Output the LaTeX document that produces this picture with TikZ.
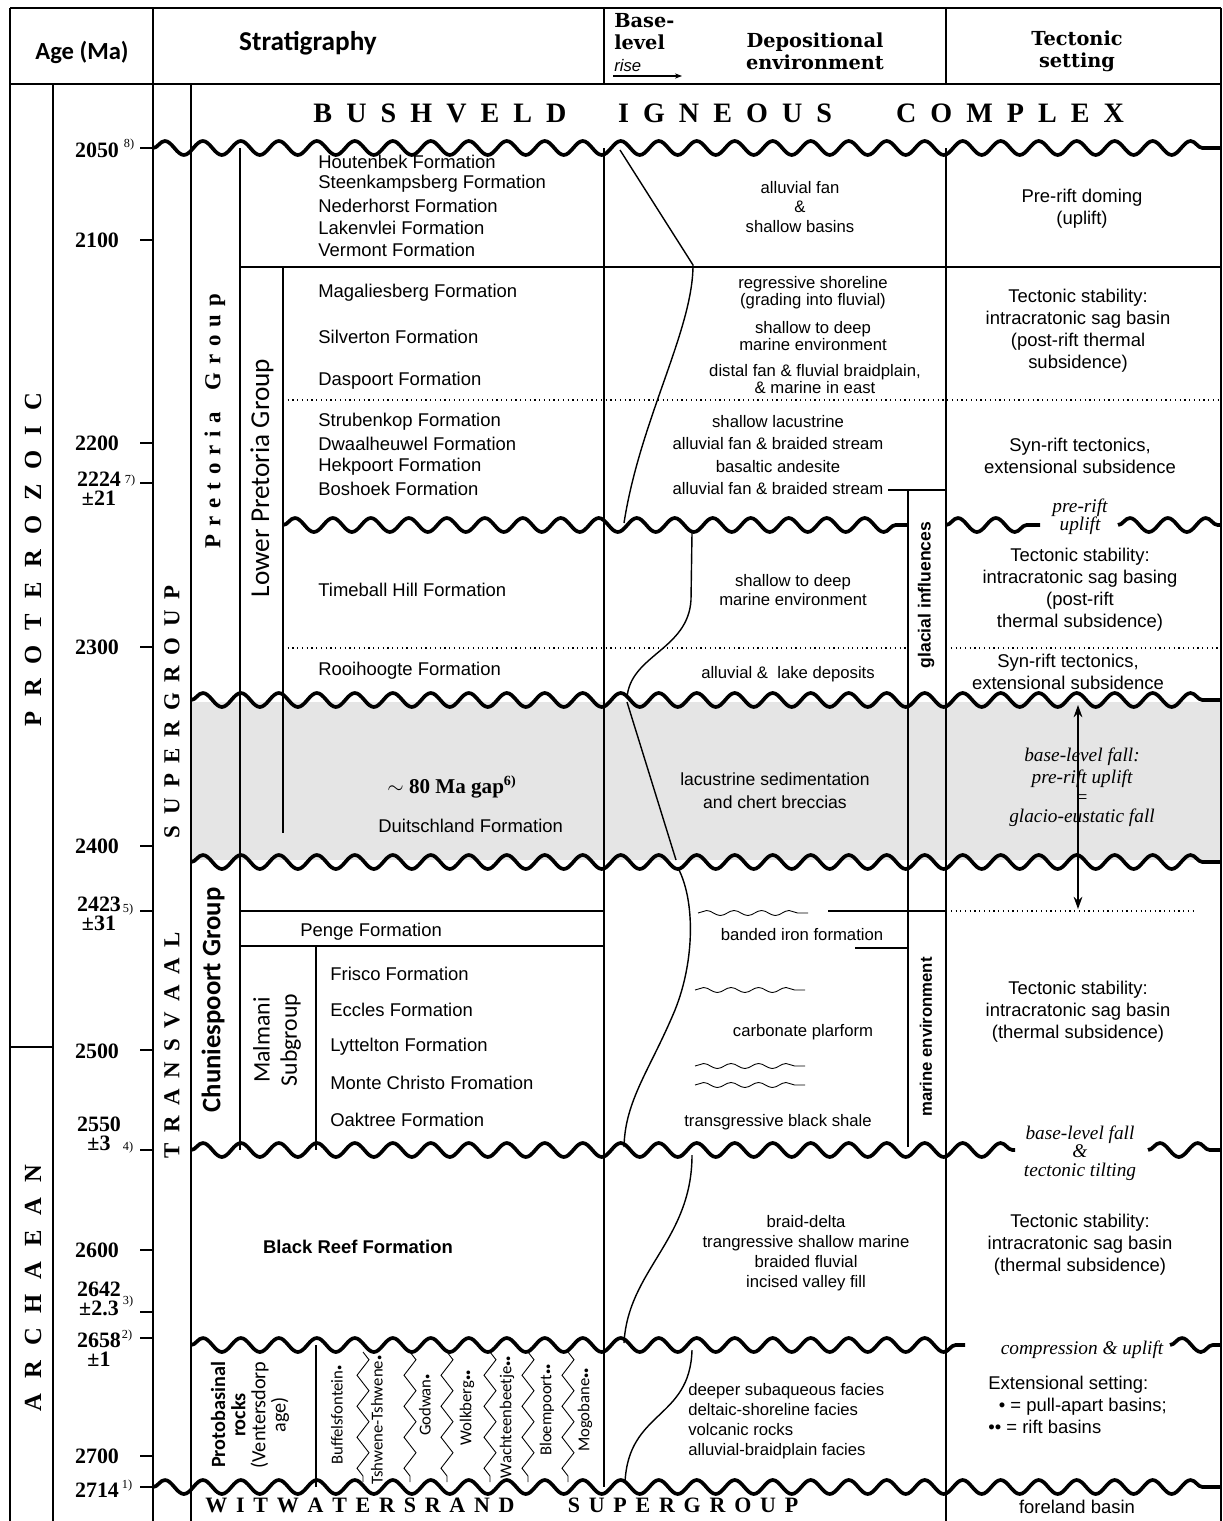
\documentclass[tikz,border=0pt]{standalone}
\usepackage{fontspec}
\setmainfont{Liberation Serif}
\setsansfont{Liberation Sans}
\newfontfamily\gillfont{Carlito}
\newfontfamily\headfont{DejaVu Serif}
\usetikzlibrary{positioning,arrows.meta,decorations.pathmorphing}

% letter-spaced capitals
\makeatletter
\newcommand\spreadtext[2]{{\def\st@gap{\hspace{#1}}\@tfor\st@tok:=#2\do{\st@tok\st@gap}\unskip}}
\makeatother
\newcommand\bul{{\fontsize{6}{6}\selectfont\textbullet}}

\tikzset{
  rule/.style={line width=0.7pt},
  unconf/.style={line width=2.1pt,line join=round,decorate,
    decoration={snake,segment length=0.76cm,amplitude=0.14cm}},
  squig/.style={line width=0.5pt,decorate,
    decoration={snake,segment length=0.55cm,amplitude=0.05cm}},
  zig/.style={line width=0.5pt,decorate,
    decoration={zigzag,segment length=0.62cm,amplitude=0.12cm}},
  fm/.style={anchor=west,font=\sffamily\fontsize{10.5}{12}\selectfont},
  dep/.style={align=center,font=\sffamily\fontsize{9.5}{11.3}\selectfont},
  tec/.style={align=center,font=\sffamily\fontsize{10.5}{12.5}\selectfont},
  tecit/.style={align=center,font=\itshape\fontsize{11}{10.5}\selectfont},
  age/.style={align=center,font=\bfseries\fontsize{12.5}{11}\selectfont},
  ref/.style={font=\fontsize{7}{7}\selectfont},
  head/.style={align=center,font=\headfont\bfseries\fontsize{11}{12.5}\selectfont},
  eon/.style={rotate=90,font=\bfseries\fontsize{14}{14}\selectfont},
  colab/.style={rotate=90,font=\gillfont\fontsize{9.5}{9.5}\selectfont},
}

\begin{document}
\begin{tikzpicture}[x=0.02cm,y=-0.02cm,every node/.style={inner sep=0pt}]
\useasboundingbox (0,0) rectangle (1223,1521);

% gap shading
\fill[gray!20] (191,702) rectangle (1221,860);

% frame and columns
\draw[rule] (10,8) -- (1221,8);
\draw[rule] (10,84) -- (1221,84);
\draw[rule] (10,8) -- (10,1521);
\draw[rule] (1221,8) -- (1221,1521);
\draw[rule] (53,84) -- (53,1521);
\draw[rule] (10,1047) -- (53,1047);
\draw[rule] (153,8) -- (153,1521);
\draw[rule] (191,84) -- (191,1521);
\draw[rule] (240,148) -- (240,1150);
\draw[rule] (283,267) -- (283,833);
\draw[rule] (316,946) -- (316,1150);
\draw[rule] (316,1345) -- (316,1487);
\draw[rule] (604,8) -- (604,84);
\draw[rule] (604,148) -- (604,1487);
\draw[rule] (946,8) -- (946,84);
\draw[rule] (946,148) -- (946,1521);

% horizontal divisions
\draw[rule] (240,267) -- (1221,267);
\draw[rule,dotted] (283,400) -- (1221,400);
\draw[rule,dotted] (283,648) -- (908,648);
\draw[rule,dotted] (946,648) -- (1221,648);
\draw[rule] (240,911) -- (604,911);
\draw[rule] (240,946) -- (604,946);
\draw[rule] (888,490) -- (946,490);
\draw[rule] (908,490) -- (908,1147);
\draw[rule] (828,911) -- (946,911);
\draw[rule,dotted] (946,911) -- (1195,911);
\draw[rule] (855,948) -- (908,948);

% age ticks
\foreach \y in {148,240,443,483,647,846,911,1050,1150,1250,1312,1338,1456,1487}
  \draw[rule] (140,\y) -- (153,\y);

% unconformities
\draw[unconf] (153,148) -- (1221,148);
\draw[unconf] (283,525) -- (908,525);
\draw[unconf] (946,525) -- (1040,525);
\draw[unconf] (1118,525) -- (1221,525);
\draw[unconf] (191,700) -- (1221,700);
\draw[unconf] (191,862) -- (1221,862);
\draw[unconf] (191,1150) -- (1015,1150);
\draw[unconf] (1148,1150) -- (1221,1150);
\draw[unconf] (191,1345) -- (965,1345);
\draw[unconf] (1170,1345) -- (1221,1345);
\draw[unconf] (153,1487) -- (1221,1487);

% base-level curve
\draw[line width=0.8pt] (620,150) -- (693,265) .. controls (693,330) and (640,420) .. (624,523);
\draw[line width=0.8pt] (692,533) -- (691,600) .. controls (688,650) and (630,655) .. (627,698);
\draw[line width=0.8pt] (627,702) -- (676,860);
\draw[line width=0.8pt] (678,868) .. controls (695,900) and (695,960) .. (675,1010)
  .. controls (650,1070) and (625,1100) .. (624,1147);
\draw[line width=0.8pt] (692,1155) .. controls (692,1240) and (628,1270) .. (624,1343);
\draw[line width=0.8pt] (692,1350) .. controls (690,1420) and (628,1410) .. (625,1483);

% facies squiggles
\draw[squig] (698,913) -- (808,913);
\draw[squig] (695,990) -- (805,990);
\draw[squig] (695,1066) -- (805,1066);
\draw[squig] (695,1085) -- (805,1085);

% protobasinal dividers
\foreach \xx in {363,410,447,490,528,568}
  \draw[zig] (\xx,1352) -- (\xx,1482);

% gap arrow
\coordinate (arrtop) at (1078,705);
\coordinate (arrbot) at (1078,909);
\draw[{Stealth[length=7pt,width=5pt]}-{Stealth[length=7pt,width=5pt]},line width=0.8pt] (arrtop) -- (arrbot);

% header
\node[font=\gillfont\bfseries\fontsize{14}{14}\selectfont] (hage) at (82,52) {Age (Ma)};
\node[font=\gillfont\bfseries\fontsize{15.5}{15.5}\selectfont] (hstrat) at (308,43) {Stratigraphy};
\node[head,align=left,anchor=north west] (hbase) at (614,13) {Base-\\level};
\node[anchor=west,font=\sffamily\itshape\fontsize{9.5}{9.5}\selectfont] (hrise) at (614,66) {rise};
\coordinate (risea) at (613,76);
\coordinate (riseb) at (682,76);
\draw[-{Stealth[length=4pt,width=3pt]},line width=0.6pt] (risea) -- (riseb);
\node[head] (hdep) at (815,51) {Depositional\\environment};
\node[head] (htec) at (1077,51) {Tectonic\\setting};

% eons and groups
\node[eon] (prot) at (33,560) {\spreadtext{8.5pt}{PROTEROZOIC}};
\node[eon] (arch) at (33,1288) {\spreadtext{8.5pt}{ARCHAEAN}};
\node[eon,font=\bfseries\fontsize{13}{13}\selectfont] (sgsuper) at (172,712) {\spreadtext{6pt}{SUPERGROUP}};
\node[eon,font=\bfseries\fontsize{13}{13}\selectfont] (sgtrans) at (172,1045) {\spreadtext{6pt}{TRANSVAAL}};
\node[rotate=90,font=\bfseries\fontsize{13}{13}\selectfont] (pretgp) at (215,421) {\spreadtext{4.5pt}{Pretoria~Group}};
\node[rotate=90,font=\gillfont\fontsize{15.5}{15.5}\selectfont] (lowpret) at (262,478) {Lower Pretoria Group};
\node[rotate=90,font=\gillfont\bfseries\fontsize{15.2}{15.2}\selectfont] (chun) at (213,1000) {Chuniespoort Group};
\node[rotate=90,align=center,font=\gillfont\fontsize{13.5}{15.5}\selectfont] (malm) at (277,1040) {Malmani\\Subgroup};
\node[rotate=90,align=center,font=\gillfont\fontsize{11.5}{11.5}\selectfont] (proto) at (250,1415)
  {\textbf{Protobasinal}\\\textbf{rocks}\\(Ventersdorp\\age)};

% ages
\node[age] (a2050) at (97,150) {2050};
\node[age] (a2100) at (97,240) {2100};
\node[age] (a2200) at (97,443) {2200};
\node[age] (a2224) at (99,489) {2224\\±21};
\node[age] (a2300) at (97,647) {2300};
\node[age] (a2400) at (97,846) {2400};
\node[age] (a2423) at (99,914) {2423\\±31};
\node[age] (a2500) at (97,1051) {2500};
\node[age] (a2550) at (99,1134) {2550\\±3};
\node[age] (a2600) at (97,1250) {2600};
\node[age] (a2642) at (99,1299) {2642\\±2.3};
\node[age] (a2658) at (99,1350) {2658\\±1};
\node[age] (a2700) at (97,1456) {2700};
\node[age] (a2714) at (97,1490) {2714};
\node[ref] (r8) at (129,145) {8)};
\node[ref] (r7) at (130,481) {7)};
\node[ref] (r5) at (128,910) {5)};
\node[ref] (r4) at (128,1148) {4)};
\node[ref] (r3) at (128,1302) {3)};
\node[ref] (r2) at (127,1336) {2)};
\node[ref] (r1) at (127,1486) {1)};

% big names
\node[font=\bfseries\fontsize{16}{16}\selectfont] (bush) at (440,113) {\spreadtext{8pt}{BUSHVELD}};
\node[font=\bfseries\fontsize{16}{16}\selectfont] (igne) at (725,113) {\spreadtext{8pt}{IGNEOUS}};
\node[font=\bfseries\fontsize{16}{16}\selectfont] (comp) at (1010,113) {\spreadtext{8pt}{COMPLEX}};
\node[font=\bfseries\fontsize{12.5}{12.5}\selectfont] (witw) at (360,1505) {\spreadtext{5pt}{WITWATERSRAND}};
\node[font=\bfseries\fontsize{12.5}{12.5}\selectfont] (wsup) at (683,1505) {\spreadtext{5pt}{SUPERGROUP}};

% formations
\foreach \nm/\y/\t in {hout/162/Houtenbek, steen/184/Steenkampsberg, neder/206/Nederhorst,
    laken/228/Lakenvlei, verm/250/Vermont, magal/293/Magaliesberg, silv/337/Silverton,
    dasp/381/Daspoort, strub/422/Strubenkop, dwaal/444/Dwaalheuwel, hekp/467/Hekpoort,
    bosh/489/Boshoek, timeb/590/Timeball Hill, rooih/671/Rooihoogte}
  \node[fm] (\nm) at (318,\y) {\t\ Formation};
\node[fm] (duits) at (378,826) {Duitschland Formation};
\node[fm] (penge) at (300,932) {Penge Formation};
\foreach \nm/\y/\t in {frisco/974/Frisco Formation, eccles/1010/Eccles Formation,
    lyttel/1047/Lyttelton Formation, montec/1083/Monte Christo Fromation, oaktr/1120/Oaktree Formation}
  \node[fm] (\nm) at (330,\y) {\t};
\node[font=\sffamily\bfseries\fontsize{10.5}{12}\selectfont] (blackreef) at (358,1247) {Black Reef Formation};
\node[font=\bfseries\fontsize{12}{12}\selectfont] (gaptxt) at (452,787) {$\sim$ 80 Ma gap\textsuperscript{6)}};

% protobasinal units
\foreach \nm/\xx/\yy/\t in {buff/337/1415/Buffelsfontein\bul, tshw/377/1420/Tshwene-Tshwene\bul,
    godw/425/1405/Godwan\bul, wolk/467/1408/Wolkberg\bul\bul, wach/507/1417/Wachteenbeetje\bul\bul,
    bloe/547/1410/Bloempoort\bul\bul, mogo/585/1410/Mogobane\bul\bul}
  \node[colab] (\nm) at (\xx,\yy) {\t};

% depositional environment
\node[dep] (dep1) at (800,207) {alluvial fan\\\&\\shallow basins};
\node[dep,font=\sffamily\fontsize{9.5}{9.8}\selectfont] (dep2) at (813,293) {regressive shoreline\\(grading into fluvial)};
\node[dep,font=\sffamily\fontsize{9.5}{10.2}\selectfont] (dep3) at (813,336) {shallow to deep\\marine environment};
\node[dep,font=\sffamily\fontsize{9.5}{9.8}\selectfont] (dep4) at (815,379) {distal fan \& fluvial braidplain,\\\& marine in east};
\node[dep] (dep5) at (778,422) {shallow lacustrine};
\node[dep] (dep6) at (778,444) {alluvial fan \& braided stream};
\node[dep] (dep7) at (778,467) {basaltic andesite};
\node[dep] (dep8) at (778,489) {alluvial fan \& braided stream};
\node[dep] (dep9) at (793,590) {shallow to deep\\marine environment};
\node[dep] (dep10) at (788,674) {alluvial \&\ \ lake deposits};
\node[dep,font=\sffamily\fontsize{10}{13}\selectfont] (dep11) at (775,791) {lacustrine sedimentation\\and chert breccias};
\node[dep] (dep12) at (802,935) {banded iron formation};
\node[dep] (dep13) at (803,1032) {carbonate plarform};
\node[dep] (dep14) at (778,1122) {transgressive black shale};
\node[dep] (dep15) at (806,1253) {braid-delta\\trangressive shallow marine\\braided fluvial\\incised valley fill};
\node[dep,align=left,anchor=west] (dep16) at (688,1421) {deeper subaqueous facies\\deltaic-shoreline facies\\volcanic rocks\\alluvial-braidplain facies};
\node[rotate=90,font=\sffamily\bfseries\fontsize{10}{10}\selectfont] (glac) at (926,595) {glacial influences};
\node[rotate=90,font=\sffamily\bfseries\fontsize{9.5}{9.5}\selectfont] (marenv) at (926,1037) {marine environment};

% tectonic setting
\node[tec] (tec1) at (1082,209) {Pre-rift doming\\(uplift)};
\node[tec] (tec2) at (1078,331) {Tectonic stability:\\intracratonic sag basin\\(post-rift thermal\\subsidence)};
\node[tec] (tec3) at (1080,456) {Syn-rift tectonics,\\extensional subsidence};
\node[tecit] (tec4) at (1080,517) {pre-rift\\uplift};
\node[tec] (tec5) at (1080,590) {Tectonic stability:\\intracratonic sag basing\\(post-rift\\thermal subsidence)};
\node[tec] (tec6) at (1068,672) {Syn-rift tectonics,\\extensional subsidence};
\node[tecit] (tec7) at (1082,757) {base-level fall:};
\node[tecit] (tec8) at (1082,779) {pre-rift uplift};
\node[tecit] (tec9) at (1082,799) {=};
\node[tecit] (tec10) at (1082,818) {glacio-eustatic fall};
\node[tec] (tec11) at (1078,1012) {Tectonic stability:\\intracratonic sag basin\\(thermal subsidence)};
\node[tecit] (tec12) at (1080,1153) {base-level fall\\\&\\tectonic tilting};
\node[tec] (tec13) at (1080,1245) {Tectonic stability:\\intracratonic sag basin\\(thermal subsidence)};
\node[tecit] (tec14) at (1082,1350) {compression \& uplift};
\node[tec,align=left,anchor=west] (tec15) at (988,1405) {Extensional setting:\\\hspace{6pt}\textbullet\ = pull-apart basins;\\\textbullet\textbullet\ = rift basins};
\node[tec] (tec16) at (1077,1507) {foreland basin};
\end{tikzpicture}
\end{document}
